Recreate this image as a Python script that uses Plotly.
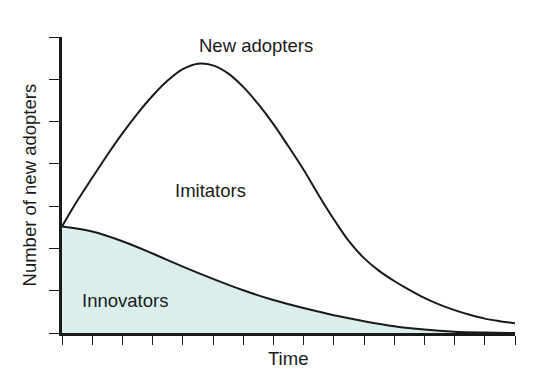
import plotly.graph_objects as go

# Data (time steps and number of new adopters)
time = [0, 0.5, 1, 1.5, 2, 2.5, 3, 3.5, 4, 4.5, 5, 5.5, 6, 6.5, 7, 7.5, 8, 8.5,
        9, 9.5, 10, 10.5, 11, 11.5, 12, 12.5, 13, 13.5, 14, 14.5, 15]
new_adopters = [2.52, 3.12, 3.67, 4.21, 4.72, 5.19, 5.61, 5.97, 6.24, 6.37, 6.33,
                6.14, 5.82, 5.41, 4.94, 4.41, 3.86, 3.26, 2.69, 2.17, 1.77, 1.47,
                1.23, 1.02, 0.83, 0.67, 0.54, 0.43, 0.34, 0.28, 0.23]
innov_time = [0, 1, 2, 3, 4, 5, 6, 7, 8, 9, 10, 11, 12, 13, 14, 15]
innovators = [2.52, 2.40, 2.17, 1.88, 1.57, 1.28, 1.01, 0.78, 0.59, 0.42, 0.28,
              0.16, 0.08, 0.03, 0.01, 0.0]
x_ticks = list(range(0, 16))
y_ticks = list(range(0, 8))

W, H = 537, 376
L, R, T, B = 62.3, 515.3, 37.0, 333.5

def px(x, y):
    return (x - L) / (R - L), (B - y) / (B - T)

ink = "#1a1a1a"
font = "Liberation Sans, Arial, Helvetica, sans-serif"

fig = go.Figure()
fig.add_trace(go.Scatter(x=innov_time, y=innovators, mode="lines",
                         line=dict(color=ink, width=2, shape="spline", smoothing=1),
                         fill="tozeroy", fillcolor="#daeeed",
                         hoverinfo="skip", showlegend=False))
fig.add_trace(go.Scatter(x=time, y=new_adopters, mode="lines",
                         line=dict(color=ink, width=2, shape="spline", smoothing=1),
                         hoverinfo="skip", showlegend=False))

ann = []
def add_text(text, x, y, angle=0):
    fx, fy = px(x, y)
    ann.append(dict(text=text, x=fx, y=fy, xref="paper", yref="paper",
                    showarrow=False, xanchor="center", yanchor="middle",
                    textangle=angle, font=dict(family=font, size=18.5, color=ink)))

add_text("New adopters", 256.7, 46)
add_text("Imitators", 210.5, 191)
add_text("Innovators", 125, 301)
add_text("Time", 288.7, 359)
add_text("Number of new adopters", 30, 185, angle=-90)

fig.update_layout(
    width=W, height=H,
    margin=dict(l=L, r=W - R, t=T, b=H - B, pad=0),
    paper_bgcolor="white", plot_bgcolor="white",
    annotations=ann,
    xaxis=dict(range=[0, 15], tickvals=x_ticks, showticklabels=False,
               ticks="outside", ticklen=9, tickwidth=1, tickcolor=ink,
               showline=True, linewidth=3, linecolor=ink,
               showgrid=False, zeroline=False, fixedrange=True),
    yaxis=dict(range=[0, 7], tickvals=y_ticks, showticklabels=False,
               ticks="outside", ticklen=10, tickwidth=1, tickcolor=ink,
               showline=True, linewidth=3, linecolor=ink,
               showgrid=False, zeroline=False, fixedrange=True),
)

fig.write_html("out.html", config={"displayModeBar": False})
